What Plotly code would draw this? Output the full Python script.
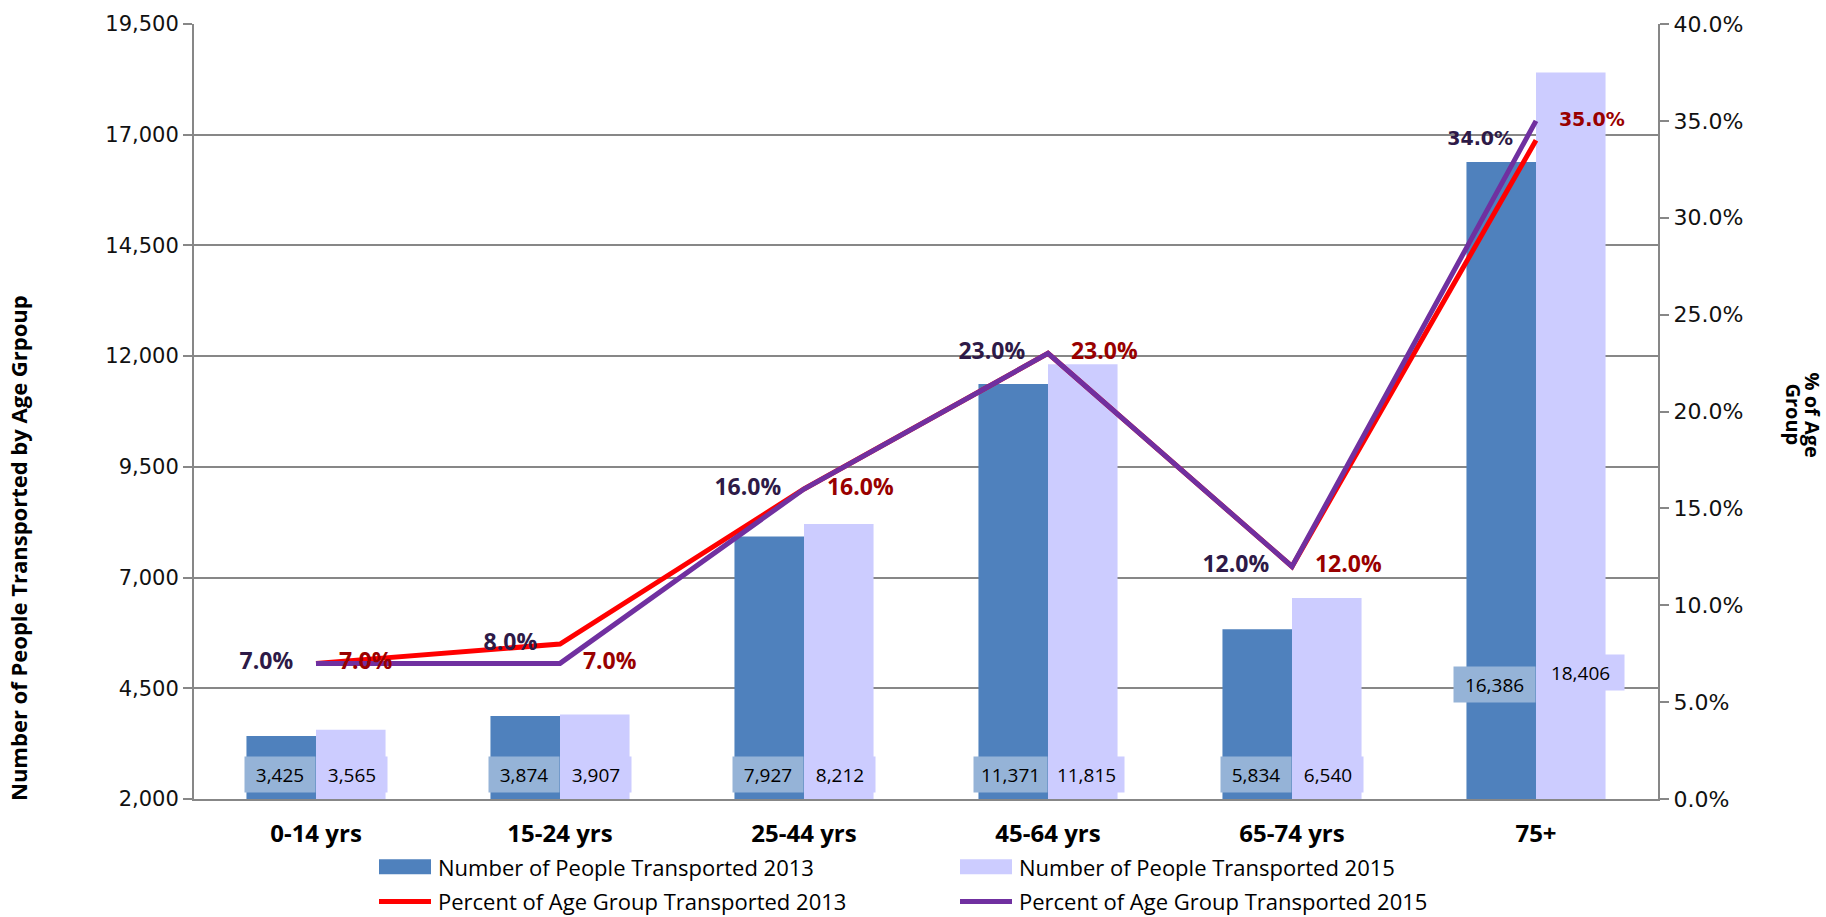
import plotly.graph_objects as go

# ---------------- data ----------------
categories = ["0-14 yrs", "15-24 yrs", "25-44 yrs", "45-64 yrs", "65-74 yrs", "75+"]
people_2013 = [3425, 3874, 7927, 11371, 5834, 16386]
people_2015 = [3565, 3907, 8212, 11815, 6540, 18406]
pct_2013 = [0.07, 0.08, 0.16, 0.23, 0.12, 0.34]
pct_2015 = [0.07, 0.07, 0.16, 0.23, 0.12, 0.35]

left_ticks = [2000, 4500, 7000, 9500, 12000, 14500, 17000, 19500]
right_ticks = [0, 0.05, 0.10, 0.15, 0.20, 0.25, 0.30, 0.35, 0.40]

name_b13 = "Number of People Transported 2013"
name_b15 = "Number of People Transported 2015"
name_l13 = "Percent of Age Group Transported 2013"
name_l15 = "Percent of Age Group Transported 2015"

# ---------------- style ----------------
W, H = 1826, 917
ML, MR, MT, MB = 194, 168, 21, 118
PW, PH = W - ML - MR, H - MT - MB

C_B13 = "#4F81BD"
C_B15 = "#CCCCFF"
C_LBL13 = "#95B3D7"
C_L13 = "#FF0000"
C_L15 = "#7030A0"
C_TXT_DARK = "#2E1A47"
C_TXT_RED = "#990000"
GRAY = "#878787"

# percent-label fonts (last group uses a wider face, as in the original)
fam_pct = ["Open Sans"] * 5 + ["DejaVu Sans"]
size_pct = [23] * 5 + [19]

# value-label box widths (px, incl. padding) and vertical centres (px from top)
box_w_13 = [70, 70, 70, 73, 70, 81]
box_w_15 = [70, 70, 70, 75, 70, 87]
box_y_13 = [774, 774, 774, 774, 774, 684]
box_y_15 = [774, 774, 774, 774, 774, 672]


def px_x(px):
    return (px - ML) / PW


def px_y(py):
    return (H - MB - py) / PH


fig = go.Figure()

fig.add_trace(go.Bar(x=categories, y=people_2013, name=name_b13,
                     marker=dict(color=C_B13, line=dict(width=0)), showlegend=False))
fig.add_trace(go.Bar(x=categories, y=people_2015, name=name_b15,
                     marker=dict(color=C_B15, line=dict(width=0)), showlegend=False))

fig.add_trace(go.Scatter(x=categories, y=pct_2013, name=name_l13, yaxis="y2",
                         mode="lines", line=dict(color=C_L13, width=5),
                         showlegend=False))
fig.add_trace(go.Scatter(x=categories, y=pct_2015, name=name_l15, yaxis="y2",
                         mode="lines", line=dict(color=C_L15, width=5),
                         showlegend=False))

# percent labels (2013 values dark, left; 2015 values dark red, right)
invisible = dict(size=35, color="rgba(0,0,0,0)", line=dict(width=0, color="rgba(0,0,0,0)"))
fig.add_trace(go.Scatter(x=categories, y=pct_2013, yaxis="y2", mode="markers+text",
                         marker=invisible,
                         text=[f"{v*100:.1f}%" for v in pct_2013],
                         textposition="middle left",
                         textfont=dict(family=fam_pct, size=size_pct, color=C_TXT_DARK,
                                       weight="bold"),
                         showlegend=False, hoverinfo="skip", cliponaxis=False))
fig.add_trace(go.Scatter(x=categories, y=pct_2015, yaxis="y2", mode="markers+text",
                         marker=invisible,
                         text=[f"{v*100:.1f}%" for v in pct_2015],
                         textposition="middle right",
                         textfont=dict(family=fam_pct, size=size_pct, color=C_TXT_RED,
                                       weight="bold"),
                         showlegend=False, hoverinfo="skip", cliponaxis=False))

# bar value labels (boxes near bar base, anchored at the category centre)
annotations = []
pad = 4
for i, c in enumerate(categories):
    for vals, ys, ws, col, anchor in ((people_2013, box_y_13, box_w_13, C_LBL13, "right"),
                                      (people_2015, box_y_15, box_w_15, C_B15, "left")):
        annotations.append(dict(
            x=c, xref="x", y=px_y(ys[i]), yref="paper",
            text=f"{vals[i]:,}", showarrow=False,
            font=dict(family="Open Sans", size=19, color="black"),
            bgcolor=col, width=ws[i] - 2 * pad, height=27,
            borderpad=pad, xanchor=anchor, yanchor="middle"))

# axis titles
annotations.append(dict(
    x=px_x(18), y=px_y(547), xref="paper", yref="paper",
    text="<b>Number of People Transported by Age Grpoup</b>", textangle=-90,
    showarrow=False, font=dict(family="Open Sans", size=22, color="black"),
    xanchor="center", yanchor="middle"))
for txt, xc in (("<b>% of Age</b>", 1813), ("<b>Group</b>", 1794)):
    annotations.append(dict(
        x=px_x(xc), y=px_y(413), xref="paper", yref="paper",
        text=txt, textangle=90, borderpad=0,
        showarrow=False, font=dict(family="Open Sans", size=20, color="black"),
        xanchor="center", yanchor="middle"))

# manual legend
shapes = []
leg_cols = [(379, 431, 437), (960, 1012, 1018)]
leg_items = [(name_b13, "bar", C_B13, 0, 0), (name_b15, "bar", C_B15, 1, 0),
             (name_l13, "line", C_L13, 0, 1), (name_l15, "line", C_L15, 1, 1)]
row_y = [867, 901]
for name, kind, col, ci, ri in leg_items:
    x0, x1, tx = leg_cols[ci]
    yc = row_y[ri]
    if kind == "bar":
        shapes.append(dict(type="rect", xref="paper", yref="paper",
                           x0=px_x(x0), x1=px_x(x1), y0=px_y(yc + 7.5), y1=px_y(yc - 7.5),
                           fillcolor=col, line=dict(width=0)))
    else:
        shapes.append(dict(type="line", xref="paper", yref="paper",
                           x0=px_x(x0), x1=px_x(x1), y0=px_y(yc + 1), y1=px_y(yc + 1),
                           line=dict(color=col, width=5)))
    annotations.append(dict(x=px_x(tx), y=px_y(yc), xref="paper", yref="paper",
                            text=name, showarrow=False, xanchor="left", yanchor="middle",
                            borderpad=0,
                            font=dict(family="Open Sans", size=22, color="black")))

fig.update_layout(
    width=W, height=H, autosize=False,
    margin=dict(l=ML, r=MR, t=MT, b=MB),
    paper_bgcolor="white", plot_bgcolor="white",
    barmode="group", bargap=0.43, bargroupgap=0,
    showlegend=False,
    xaxis=dict(type="category", range=[-0.5, len(categories) - 0.5],
               showline=True, linecolor=GRAY, linewidth=2,
               ticks="", showgrid=False, ticklabelstandoff=12,
               tickfont=dict(family="Open Sans", size=24, color="black", weight="bold")),
    yaxis=dict(range=[2000, 19500], tickvals=left_ticks, tickformat=",",
               showline=True, linecolor=GRAY, linewidth=2,
               ticks="outside", ticklen=9, tickcolor=GRAY, tickwidth=2,
               showgrid=True, gridcolor=GRAY, gridwidth=1.5, zeroline=False,
               tickfont=dict(family="DejaVu Sans", size=21, color="#111111")),
    yaxis2=dict(range=[0, 0.4], tickvals=right_ticks, tickformat=".1%",
                overlaying="y", side="right",
                showline=True, linecolor=GRAY, linewidth=2,
                ticks="outside", ticklen=9, tickcolor=GRAY, tickwidth=2,
                showgrid=False, zeroline=False,
                tickfont=dict(family="DejaVu Sans", size=22, color="#111111")),
    annotations=annotations,
    shapes=shapes,
)

fig.write_html("out.html",
               config={"displayModeBar": False},
               post_script="document.body.style.margin='0';"
                           "document.body.style.overflow='hidden';")
